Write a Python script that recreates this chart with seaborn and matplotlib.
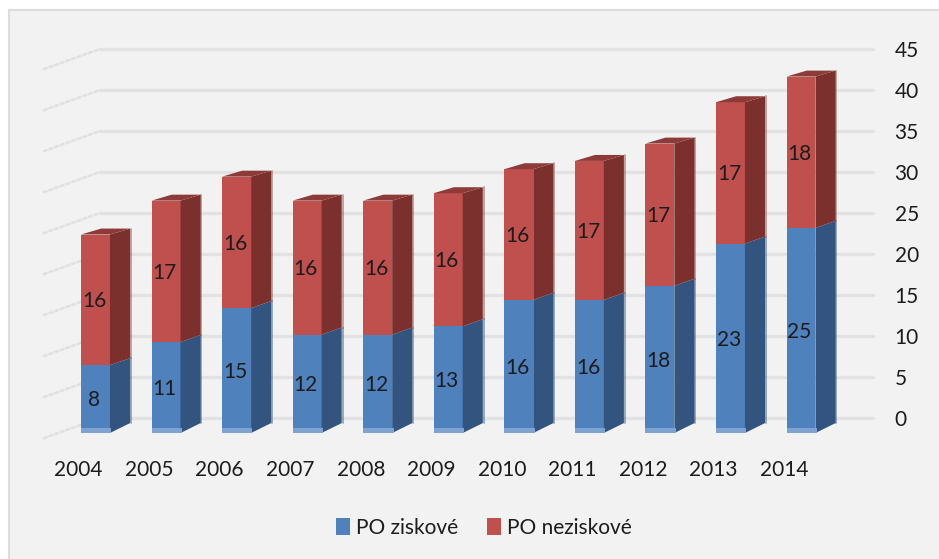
import pandas as pd
import seaborn as sns
import matplotlib.pyplot as plt
from matplotlib.patches import Polygon, Rectangle
from matplotlib.transforms import blended_transform_factory

# Chart data
years = ["2004", "2005", "2006", "2007", "2008", "2009", "2010", "2011", "2012", "2013", "2014"]
po_ziskove = [8.2, 11.0, 15.1, 11.9, 11.9, 12.9, 16.1, 16.1, 17.8, 22.9, 24.8]
po_neziskove = [15.8, 17.1, 15.9, 16.2, 16.2, 16.1, 15.8, 16.8, 17.2, 17.1, 18.3]
wall_ticks = [0, 5, 10, 15, 20, 25, 30, 35, 40, 45]

data = pd.DataFrame({"Year": years, "PO ziskové": po_ziskove, "PO neziskové": po_neziskove})

W, H = 939, 559
BG = "#f2f2f2"
GRID = "#e2e2e2"
TEXT = "#1c1c1c"
BLUE, BLUE_SIDE, BLUE_BASE = "#4f81bd", "#32547f", "#7fa3d1"
RED, RED_SIDE, RED_TOP = "#c0504d", "#7b302e", "#8c3b39"

sns.set_theme(style="white")
plt.rcParams["font.family"] = ["Lato", "DejaVu Sans"]
FS = 15


def px_axes(left, top, right, bottom):
    return fig.add_axes([left / W, 1 - bottom / H, (right - left) / W, (bottom - top) / H])


fig = plt.figure(figsize=(W / 100, H / 100), dpi=100, facecolor="white")

# Chart area with the thin border on the left and top
fig.add_artist(Rectangle((9 / W, -0.1), 1.1, 1.1 - 10 / H, transform=fig.transFigure,
                         facecolor=BG, edgecolor="#dcdcdc", linewidth=1.5, zorder=-1))

# Back wall: gridlines and the value axis on the right
wall = px_axes(100, 49, 873, 418)
wall.patch.set_alpha(0)
wall.set_xlim(0, 1)
wall.set_ylim(0, 45)
wall.set_xticks([])
wall.set_yticks(wall_ticks)
wall.yaxis.tick_right()
wall.tick_params(axis="y", length=0, pad=15.5, labelsize=FS, labelcolor=TEXT)
wall.grid(axis="y", color=GRID, linewidth=2.4)
for gridline in wall.get_ygridlines():
    gridline.set_clip_on(False)
sns.despine(ax=wall, left=True, bottom=True, right=True, top=True)

# Side wall gridlines going to the front left
slant = blended_transform_factory(wall.transAxes, wall.transData)
for v in wall_ticks:
    wall.plot([-0.074, 0], [v - 2.5, v], transform=slant, color="#e0e0e0", linewidth=1.8,
              linestyle=(0, (2.0, 0.4)), clip_on=False)

# Front of the columns
ax = px_axes(45, 12, 860, 433)
ax.patch.set_alpha(0)
sns.barplot(data=data, x="Year", y="PO ziskové", color=BLUE, saturation=1, width=0.41,
            linewidth=0, edgecolor="none", label="PO ziskové", ax=ax)
sns.barplot(data=data, x="Year", y="PO neziskové", bottom=data["PO ziskové"], color=RED,
            saturation=1, width=0.41, linewidth=0, edgecolor="none", label="PO neziskové", ax=ax)
ax.get_legend().remove()
ax.set_xlim((45 - 95.5) / 70.55, (860 - 95.5) / 70.55)
ax.set_ylim(0, (433 - 12) / 8.27)
ax.set_xlabel("")
ax.set_ylabel("")
ax.set_yticks([])
ax.set_xticks([i - 0.24 for i in range(len(years))], years)
ax.tick_params(axis="x", length=0, pad=19.5, labelsize=FS, labelcolor=TEXT)
sns.despine(ax=ax, left=True, bottom=True)

# Depth of the columns
dx = 0.285
for i, (b, r) in enumerate(zip(po_ziskove, po_neziskove)):
    bar = ax.containers[0][i]
    x0 = bar.get_x()
    x1 = x0 + bar.get_width()
    rise_low, rise_mid, rise_top = 1.2, 0.85, 0.72
    ax.add_patch(Polygon([(x1, 0), (x1 + dx, rise_low), (x1 + dx, b + rise_mid), (x1, b)],
                         facecolor=BLUE_SIDE, edgecolor="none"))
    ax.add_patch(Polygon([(x1, b), (x1 + dx, b + rise_mid), (x1 + dx, b + r + rise_top), (x1, b + r)],
                         facecolor=RED_SIDE, edgecolor="none"))
    ax.add_patch(Polygon([(x0, b + r), (x1, b + r), (x1 + dx, b + r + rise_top), (x0 + dx, b + r + rise_top)],
                         facecolor=RED_TOP, edgecolor="none"))
    # soft rim on the back edge of the column
    ax.plot([x1 + dx + 0.012] * 2, [rise_low, b + rise_mid], color=BLUE_SIDE, alpha=0.5, linewidth=1.3)
    ax.plot([x1 + dx + 0.012] * 2, [b + rise_mid, b + r + rise_top], color=RED_SIDE, alpha=0.45, linewidth=1.3)
    # lighter strip at the foot of the column
    ax.add_patch(Rectangle((x0, 0), x1 - x0 + 0.02, 0.55, facecolor=BLUE_BASE, edgecolor="none", zorder=3))

# Value labels
for container in ax.containers:
    for ann in ax.bar_label(container, fmt="%.0f", label_type="center", fontsize=FS, color=TEXT):
        ann.xyann = (-1, -1)

# Legend below the chart
handles = [ax.containers[0], ax.containers[1]]
labels = ["PO ziskové", "PO neziskové"]
fig.legend(handles, labels, loc="center", bbox_to_anchor=(484 / W, 1 - 528 / H), ncol=2, frameon=False,
           fontsize=FS, labelcolor=TEXT, handlelength=0.68, handleheight=0.9, handletextpad=0.3,
           columnspacing=1.35)

plt.savefig("out.png", dpi=100, facecolor=fig.get_facecolor())
